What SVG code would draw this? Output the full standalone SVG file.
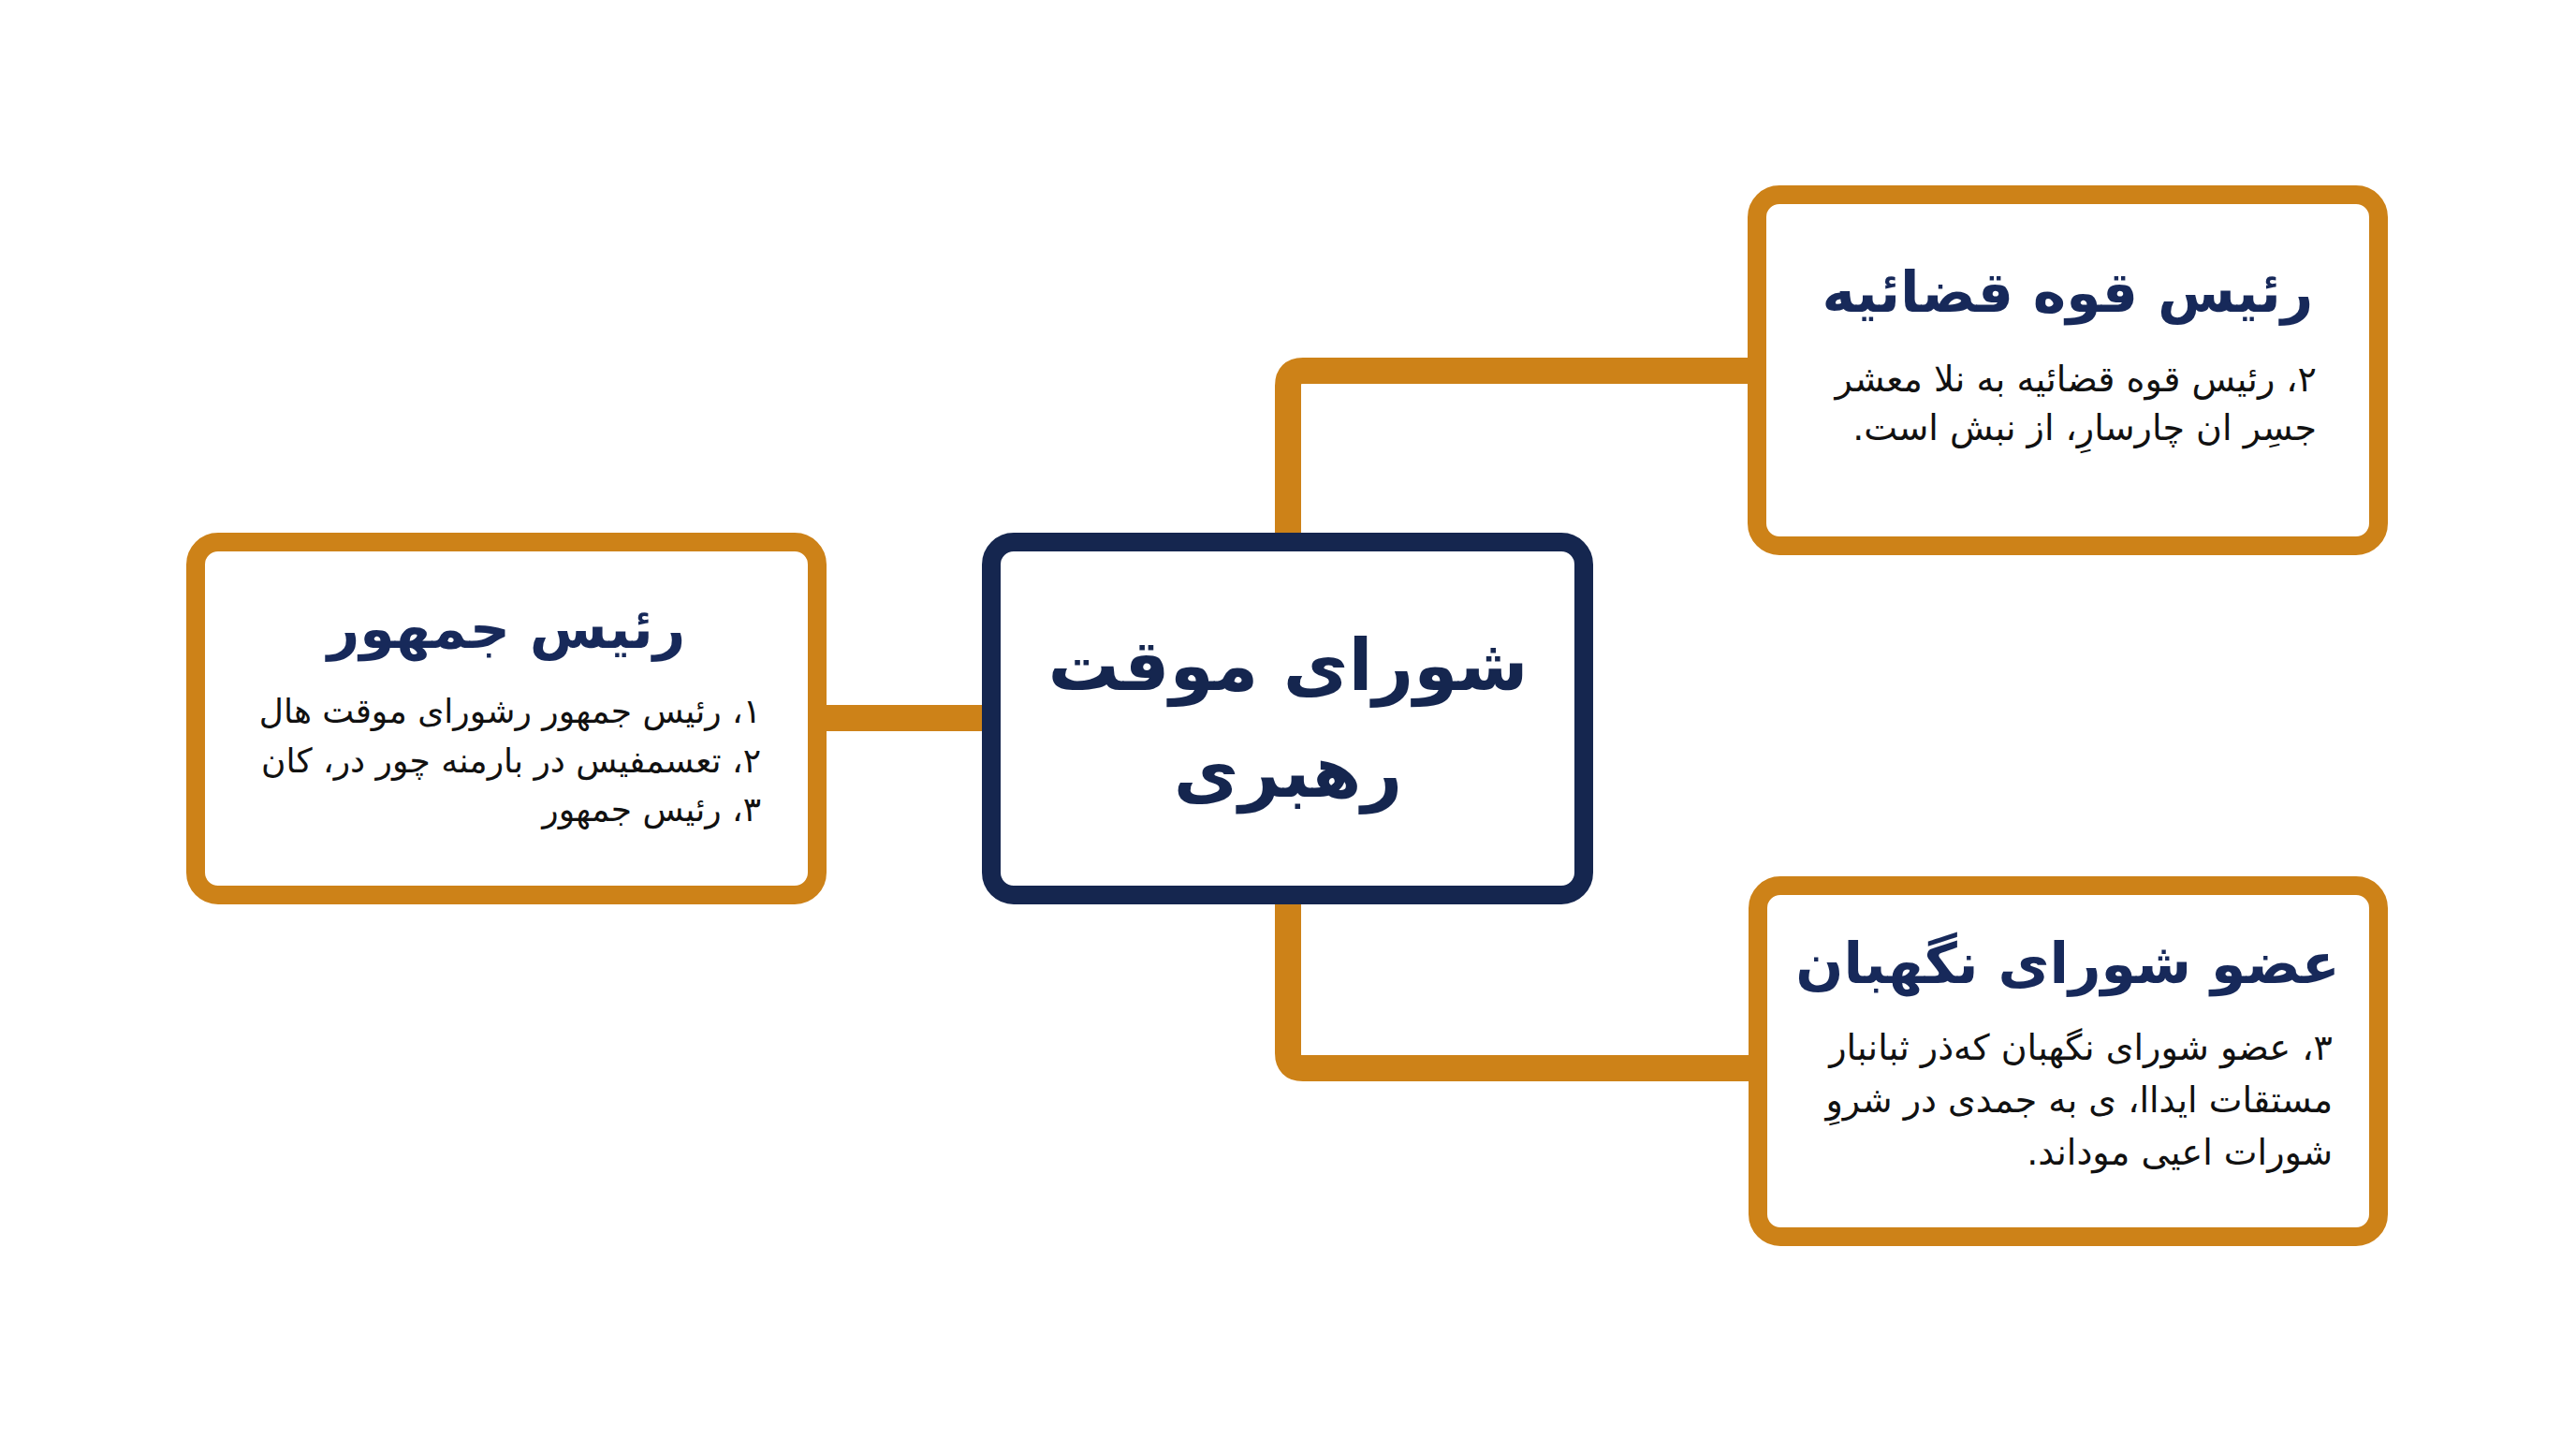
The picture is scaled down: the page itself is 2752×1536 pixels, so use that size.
<svg xmlns="http://www.w3.org/2000/svg" width="2752" height="1536" viewBox="0 0 2752 1536">
<style>
.bg{fill:#ffffff}
.box{fill:#ffffff;stroke:#CD8218;stroke-width:20}
.main{fill:#ffffff;stroke:#15264F;stroke-width:20}
.conn{fill:none;stroke:#CD8218;stroke-width:28;stroke-linejoin:round}
.title{font-family:"DejaVu Sans","Noto Sans",sans-serif;font-weight:bold;fill:#17295A;font-size:60px}
.ctitle{font-family:"DejaVu Sans","Noto Sans",sans-serif;font-weight:bold;fill:#15264F;font-size:76px}
.body{font-family:"DejaVu Sans","Noto Sans",sans-serif;fill:#111111;font-size:38px}
.bodys{font-family:"DejaVu Sans","Noto Sans",sans-serif;fill:#111111;font-size:36px}
</style>
<rect class="bg" x="0" y="0" width="2752" height="1536"/>
<g id="connectors">
<path class="conn" d="M870 767 H1060"/>
<path class="conn" d="M1376 590 V412 Q1376 396 1392 396 H1880"/>
<path class="conn" d="M1376 950 V1125 Q1376 1141 1392 1141 H1880"/>
</g>
<g id="node-president">
<rect class="box" x="209" y="579" width="664" height="377" rx="24"/>
<text class="title" x="541" y="692" text-anchor="middle" direction="rtl">رئیس جمهور</text>
<text class="bodys" x="813" y="772" direction="rtl" text-anchor="start">۱، رئیس جمهور رشورای موقت هال</text>
<text class="bodys" x="813" y="825" direction="rtl" text-anchor="start">۲، تعسمفیس در بارمنه چور در، کان</text>
<text class="bodys" x="813" y="877" direction="rtl" text-anchor="start">۳، رئیس جمهور</text>
</g>
<g id="node-council">
<rect class="main" x="1059" y="579" width="633" height="377" rx="24"/>
<text class="ctitle" x="1376" y="737" text-anchor="middle" direction="rtl">شورای موقت</text>
<text class="ctitle" x="1376" y="851" text-anchor="middle" direction="rtl">رهبری</text>
</g>
<g id="node-judiciary">
<rect class="box" x="1877" y="208" width="664" height="375" rx="24"/>
<text class="title" x="2209" y="333" text-anchor="middle" direction="rtl">رئیس قوه قضائیه</text>
<text class="body" x="2475" y="418" direction="rtl" text-anchor="start">۲، رئیس قوه قضائیه به نلا معشر</text>
<text class="body" x="2475" y="470" direction="rtl" text-anchor="start">جسِر ان چارسارِ، از نبش است.</text>
</g>
<g id="node-guardian">
<rect class="box" x="1878" y="946" width="663" height="375" rx="24"/>
<text class="title" x="2209" y="1050" text-anchor="middle" direction="rtl">عضو شورای نگهبان</text>
<text class="body" x="2492" y="1132" direction="rtl" text-anchor="start">۳، عضو شورای نگهبان که‌ذر ثبانبار</text>
<text class="body" x="2492" y="1188" direction="rtl" text-anchor="start">مستقات ایداا، ی به جمدی در شروِ</text>
<text class="body" x="2492" y="1244" direction="rtl" text-anchor="start">شورات اعیی موداند.</text>
</g>
</svg>
